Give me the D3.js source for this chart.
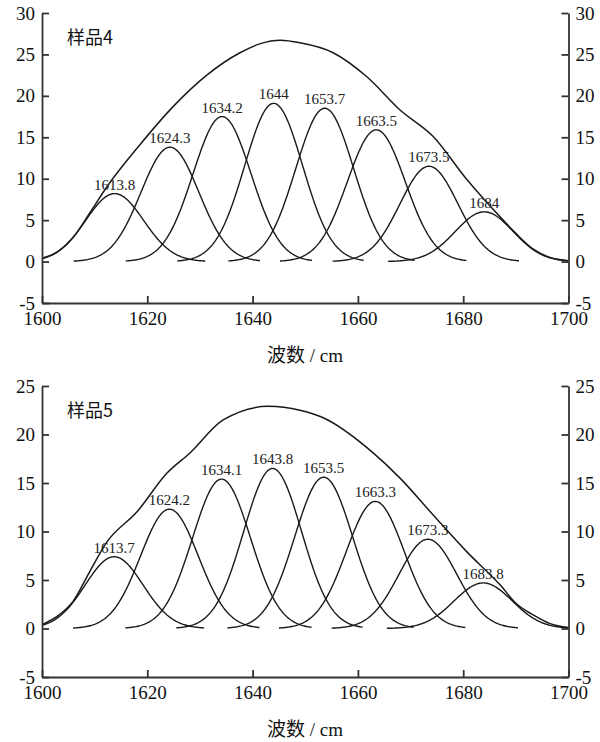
<!DOCTYPE html>
<html>
<head>
<meta charset="utf-8">
<script src="https://cdnjs.cloudflare.com/ajax/libs/d3/7.8.5/d3.min.js"></script>
<style>
  body { margin: 0; background: #fff; }
</style>
</head>
<body>
<script>
// ---- data ----
var xTicks = [1600, 1620, 1640, 1660, 1680, 1700];
var yTicks4 = [-5, 0, 5, 10, 15, 20, 25, 30];
var yTicks5 = [-5, 0, 5, 10, 15, 20, 25];

// sample 4: fitted bands (center, height, sigma)
var peaks4 = [1613.8, 1624.3, 1634.2, 1644, 1653.7, 1663.5, 1673.5, 1684];
var labels4 = ["1613.8", "1624.3", "1634.2", "1644", "1653.7", "1663.5", "1673.5", "1684"];
var heights4 = [8.2, 13.8, 17.5, 19.1, 18.5, 15.9, 11.5, 6.0];
var sigma4 = [5.5, 5.5, 5.5, 5.5, 5.5, 5.5, 5.5, 5.5];
var envX4 = [1600, 1603, 1605.9, 1609.1, 1612.3, 1618.6, 1624.9, 1631.3, 1637.6, 1641.5, 1645.3,
  1649, 1655.3, 1661.7, 1668, 1674.3, 1680.7, 1687, 1690, 1693.3, 1696.5, 1700];
var envY4 = [0.4, 1.2, 2.9, 5.9, 9.0, 14.1, 18.7, 22.5, 25.2, 26.3, 26.7,
  26.4, 25.2, 22.3, 18.3, 15.1, 9.9, 5.4, 3.4, 1.5, 0.5, 0.1];

// sample 5
var peaks5 = [1613.7, 1624.2, 1634.1, 1643.8, 1653.5, 1663.3, 1673.3, 1683.8];
var labels5 = ["1613.7", "1624.2", "1634.1", "1643.8", "1653.5", "1663.3", "1673.3", "1683.8"];
var heights5 = [7.4, 12.3, 15.4, 16.5, 15.6, 13.1, 9.2, 4.7];
var sigma5 = [5.5, 5.5, 5.5, 5.5, 5.5, 5.5, 5.5, 5.5];
var envX5 = [1600, 1603, 1605.9, 1609.1, 1612.3, 1618, 1623.7, 1628.1, 1634.4, 1643, 1649,
  1653.1, 1662.9, 1668, 1674.3, 1680.7, 1687, 1690, 1693.3, 1696.5, 1700];
var envY5 = [0.4, 1.3, 2.8, 5.9, 8.9, 12.0, 16.0, 18.1, 21.5, 22.9, 22.5,
  21.8, 18.1, 15.5, 11.7, 7.9, 4.5, 2.6, 1.4, 0.5, 0.1];

var W = 600, H = 742;
var serif = "'Liberation Serif', 'Times New Roman', serif";
var svg = d3.select("body").append("svg").attr("width", W).attr("height", H);

function drawPanel(top, bottom, yMax, yTicks, peaks, labels, heights, sigmas, envX, envY, name) {
  var x = d3.scaleLinear().domain([1600, 1700]).range([42, 568.5]);
  var y = d3.scaleLinear().domain([-5, yMax]).range([bottom, top]);
  var g = svg.append("g");

  var line = d3.line().x(function(d) { return x(d[0]); }).y(function(d) { return y(d[1]); });

  // fitted components, each drawn about +-18 around its center
  peaks.forEach(function(c, i) {
    var pts = [];
    var lo = Math.max(1600, c - 18.3), hi = Math.min(1700, c + 17.2);
    for (var v = lo; v <= hi + 1e-9; v += 0.2) {
      pts.push([v, heights[i] * Math.exp(-(v - c) * (v - c) / (2 * sigmas[i] * sigmas[i]))]);
    }
    g.append("path").attr("d", line(pts))
      .attr("fill", "none").attr("stroke", "#1a1a1a").attr("stroke-width", 1.4);
    g.append("text").attr("x", x(c)).attr("y", y(heights[i]) - 4)
      .attr("text-anchor", "middle").style("font-family", serif).style("font-size", "15px")
      .attr("fill", "#222").text(labels[i]);
  });

  // envelope
  var env = envX.map(function(v, i) { return [v, envY[i]]; });
  g.append("path").attr("d", line.curve(d3.curveMonotoneX)(env))
    .attr("fill", "none").attr("stroke", "#1a1a1a").attr("stroke-width", 1.5);

  // axes (ticks point inward)
  var fmt = function(d) { return String(d); };
  var ax = g.append("g").attr("transform", "translate(0," + bottom + ")")
    .call(d3.axisBottom(x).tickValues(xTicks).tickSize(-7).tickSizeOuter(0).tickPadding(9).tickFormat(fmt));
  var al = g.append("g").attr("transform", "translate(42,0)")
    .call(d3.axisLeft(y).tickValues(yTicks).tickSize(-7).tickSizeOuter(0).tickPadding(7).tickFormat(fmt));
  var ar = g.append("g").attr("transform", "translate(568.5,0)")
    .call(d3.axisRight(y).tickValues(yTicks).tickSize(-7).tickSizeOuter(0).tickPadding(7).tickFormat(fmt));
  [ax, al, ar].forEach(function(a) {
    a.selectAll("path, line").attr("stroke", "#333").attr("stroke-width", 1.8);
    a.selectAll("text").style("font-family", serif).style("font-size", "19px").attr("fill", "#111");
  });

  g.append("text").attr("x", 67).attr("y", top + 31)
    .style("font-family", "'Noto Sans CJK SC', sans-serif").style("font-size", "18px")
    .attr("fill", "#111").text(name);
  var xl = g.append("text").attr("x", 305).attr("y", bottom + 59)
    .attr("text-anchor", "middle").attr("fill", "#111").style("font-size", "19px");
  xl.append("tspan").style("font-family", "'Noto Sans CJK SC', sans-serif").text("波数");
  xl.append("tspan").style("font-family", serif).text(" / cm");
}

drawPanel(13, 303, 30, yTicks4, peaks4, labels4, heights4, sigma4, envX4, envY4, "样品4");
drawPanel(386, 677, 25, yTicks5, peaks5, labels5, heights5, sigma5, envX5, envY5, "样品5");
</script>
</body>
</html>
